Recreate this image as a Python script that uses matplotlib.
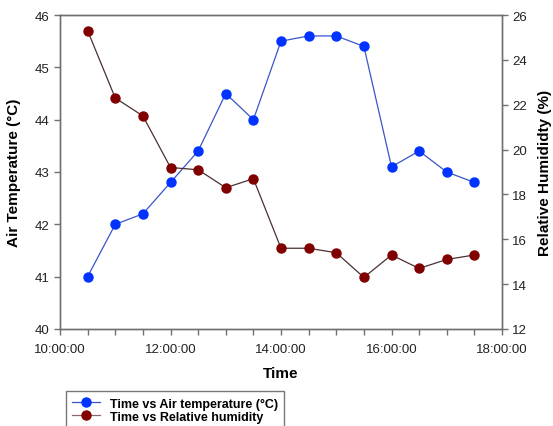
import matplotlib.pyplot as plt
import matplotlib.ticker as mticker
from matplotlib.lines import Line2D

plt.rcParams['font.family'] = ['Liberation Sans', 'DejaVu Sans']

# readings every half hour
times = ['10:30', '11:00', '11:30', '12:00', '12:30', '13:00', '13:30', '14:00',
         '14:30', '15:00', '15:30', '16:00', '16:30', '17:00', '17:30']
air_temp = [41.0, 42.0, 42.2, 42.8, 43.4, 44.5, 44.0, 45.5, 45.6, 45.6, 45.4, 43.1, 43.4, 43.0, 42.8]
rel_hum = [25.3, 22.3, 21.5, 19.2, 19.1, 18.3, 18.7, 15.6, 15.6, 15.4, 14.3, 15.3, 14.7, 15.1, 15.3]

hours = [int(t.split(':')[0]) + int(t.split(':')[1]) / 60 for t in times]

fig = plt.figure(figsize=(5.53, 4.27), dpi=100)
ax = fig.add_axes([0.1085, 0.2272, 0.7993, 0.7353])
ax2 = ax.twinx()

spine_col = '#707070'
ax.plot(hours, air_temp, '-', color='#3a55c8', lw=0.9, zorder=2)
ax.plot(hours, air_temp, 'o', color='#0033ff', ms=6.5, zorder=3)
ax2.plot(hours, rel_hum, '-', color='#4a3030', lw=0.9, zorder=2)
ax2.plot(hours, rel_hum, 'o', color='#800000', ms=6.5, zorder=3)

ax.set_xlim(10, 18)
ax.set_ylim(40, 46)
ax2.set_ylim(12, 26)
ax.xaxis.set_major_locator(mticker.MultipleLocator(2))
ax.xaxis.set_minor_locator(mticker.MultipleLocator(0.5))
ax.xaxis.set_major_formatter(mticker.FuncFormatter(lambda v, p: f'{int(v)}:00:00'))
ax.yaxis.set_major_locator(mticker.MultipleLocator(1))
ax2.yaxis.set_major_locator(mticker.MultipleLocator(2))

for a in (ax, ax2):
    for s in a.spines.values():
        s.set_color(spine_col)
        s.set_linewidth(1.0)
    a.tick_params(which='both', direction='out', color=spine_col, labelsize=9.5,
                  labelcolor='#222222', length=4, width=1.0)
ax.tick_params(axis='x', pad=6)

ax.set_xlabel('Time', fontsize=11, fontweight='bold', labelpad=8)
ax.set_ylabel('Air Temperature (°C)', fontsize=11, fontweight='bold', labelpad=10)
ax2.set_ylabel('Relative Humididty (%)', fontsize=11, fontweight='bold', labelpad=8)

handles = [Line2D([], [], color='#3a55c8', lw=0.9, marker='o', mfc='#0033ff', mec='#0033ff', ms=6.5),
           Line2D([], [], color='#8a6a6a', lw=0.9, marker='o', mfc='#800000', mec='#800000', ms=6.5)]
fig.legend(handles, ['Time vs Air temperature (°C)', 'Time vs Relative humidity'],
           loc='upper left', bbox_to_anchor=(0.108, 0.096), frameon=True, fancybox=False,
           edgecolor='#555555', prop={'weight': 'bold', 'size': 9}, handlelength=2.2,
           labelspacing=0.1, borderpad=0.5)

fig.savefig('out.png', dpi=100)
